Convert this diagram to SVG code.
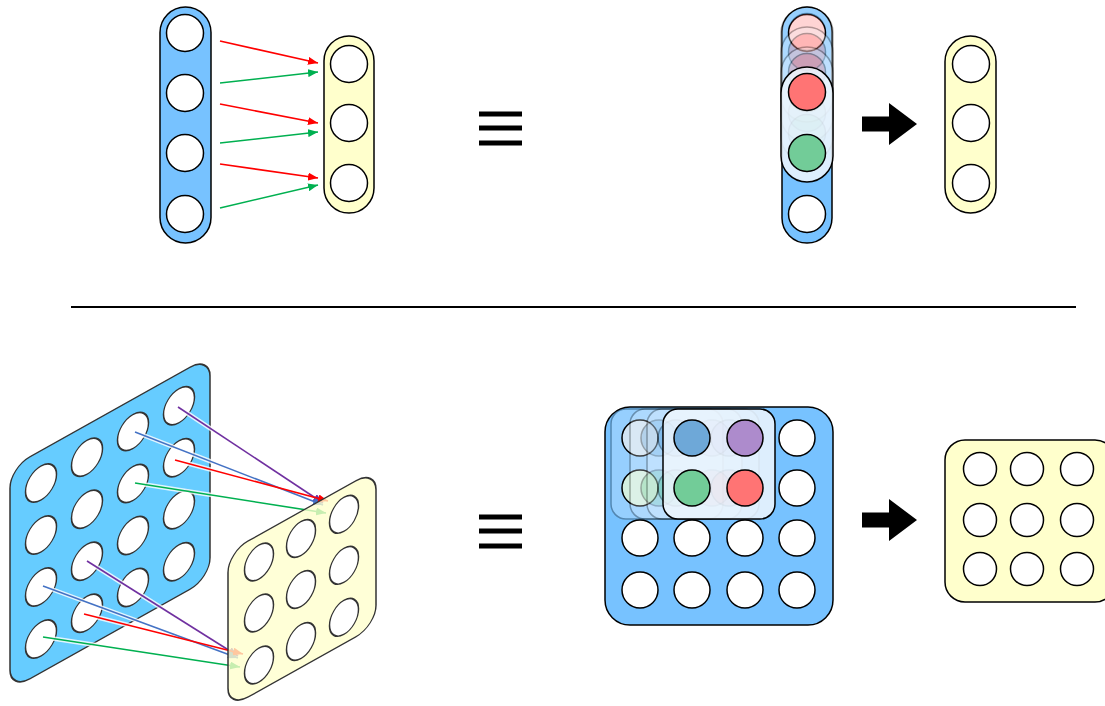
<svg xmlns="http://www.w3.org/2000/svg" width="1105" height="706" viewBox="0 0 1105 706">
  <style>
    .bg{fill:#fff}
    .blue{fill:#77c2ff;stroke:#000;stroke-width:1.5}
    .yellow{fill:#ffffcc;stroke:#000;stroke-width:1.5}
    .hole{fill:#fff;stroke:#000;stroke-width:1.5}
    .plane-blue{fill:#66ccff;stroke:#333;stroke-width:1.5}
    .plane-yellow{fill:#ffffcc;fill-opacity:0.78;stroke:#333;stroke-width:1.5}
    .phole{fill:#fff;stroke:#333;stroke-width:1.5}
    .win{fill:#eef6fd;fill-opacity:0.85;stroke:#000;stroke-width:1.5}
    .trail{opacity:0.3}
    .c-red{fill:#ff7474;stroke:#000;stroke-width:1.5}
    .c-green{fill:#72cc98;stroke:#000;stroke-width:1.5}
    .c-blue{fill:#6ea8d8;stroke:#000;stroke-width:1.5}
    .c-purple{fill:#ad8bcc;stroke:#000;stroke-width:1.5}
    .halo{fill:none;stroke:#fff;stroke-width:4.5;stroke-opacity:0.8}
    .ln{fill:none;stroke-width:1.6}
    .bar{fill:#000}
  </style>
  <defs>
    <marker id="ah-red" markerUnits="userSpaceOnUse" markerWidth="10" markerHeight="8" refX="10" refY="4" orient="auto"><path d="M0,0 L10,4 L0,8 z" fill="#ff0000"/></marker>
    <marker id="ah-green" markerUnits="userSpaceOnUse" markerWidth="10" markerHeight="8" refX="10" refY="4" orient="auto"><path d="M0,0 L10,4 L0,8 z" fill="#00b050"/></marker>
    <marker id="ah-blue" markerUnits="userSpaceOnUse" markerWidth="10" markerHeight="8" refX="10" refY="4" orient="auto"><path d="M0,0 L10,4 L0,8 z" fill="#4472c4"/></marker>
    <marker id="ah-purple" markerUnits="userSpaceOnUse" markerWidth="10" markerHeight="8" refX="10" refY="4" orient="auto"><path d="M0,0 L10,4 L0,8 z" fill="#7030a0"/></marker>
    <path id="big-arrow" d="M0,-7.5 L27,-7.5 L27,-21 L55,0 L27,21 L27,7.5 L0,7.5 z"/>
  </defs>

  <rect class="bg" x="0" y="0" width="1105" height="706"/>

  <!-- top: fully connected input layer -->
  <g id="fc-input">
    <rect class="blue" x="160" y="7" width="51" height="236" rx="25.5"/>
    <circle class="hole" cx="185" cy="33" r="18.5"/>
    <circle class="hole" cx="185" cy="93" r="18.5"/>
    <circle class="hole" cx="185" cy="153" r="18.5"/>
    <circle class="hole" cx="185" cy="214" r="18.5"/>
  </g>

  <!-- top: fully connected output layer -->
  <g id="fc-output">
    <rect class="yellow" x="324" y="36" width="50" height="177" rx="25"/>
    <circle class="hole" cx="349" cy="64" r="18.5"/>
    <circle class="hole" cx="349" cy="123" r="18.5"/>
    <circle class="hole" cx="349" cy="183" r="18.5"/>
  </g>

  <g id="fc-connectors">
    <line class="ln" x1="220" y1="41" x2="318" y2="63" stroke="#ff0000" marker-end="url(#ah-red)"/>
    <line class="ln" x1="220" y1="83" x2="318" y2="72" stroke="#00b050" marker-end="url(#ah-green)"/>
    <line class="ln" x1="220" y1="104" x2="318" y2="123" stroke="#ff0000" marker-end="url(#ah-red)"/>
    <line class="ln" x1="220" y1="143" x2="318" y2="132" stroke="#00b050" marker-end="url(#ah-green)"/>
    <line class="ln" x1="220" y1="164" x2="318" y2="178" stroke="#ff0000" marker-end="url(#ah-red)"/>
    <line class="ln" x1="220" y1="208" x2="318" y2="185" stroke="#00b050" marker-end="url(#ah-green)"/>
  </g>

  <!-- equivalence signs -->
  <g id="equiv-top">
    <rect class="bar" x="479" y="111.5" width="43" height="5"/>
    <rect class="bar" x="479" y="125.5" width="43" height="5"/>
    <rect class="bar" x="479" y="140.5" width="43" height="5"/>
  </g>

  <!-- top: 1D sliding kernel -->
  <g id="conv1d-input">
    <rect class="blue" x="782" y="7" width="50" height="236" rx="25"/>
    <circle class="hole" cx="807" cy="33" r="18.5"/>
    <circle class="hole" cx="807" cy="93" r="18.5"/>
    <circle class="hole" cx="807" cy="153" r="18.5"/>
    <circle class="hole" cx="807" cy="214" r="18.5"/>
  </g>
  <g id="conv1d-kernel">
    <g class="trail">
      <rect class="win" x="781" y="7" width="52" height="115" rx="26"/>
      <circle class="c-red" cx="807" cy="32" r="18.5"/>
      <circle class="c-green" cx="807" cy="93" r="18.5"/>
    </g>
    <g class="trail">
      <rect class="win" x="781" y="27" width="52" height="115" rx="26"/>
      <circle class="c-red" cx="807" cy="52" r="18.5"/>
      <circle class="c-green" cx="807" cy="113" r="18.5"/>
    </g>
    <g class="trail">
      <rect class="win" x="781" y="47" width="52" height="115" rx="26"/>
      <circle class="c-red" cx="807" cy="72" r="18.5"/>
      <circle class="c-green" cx="807" cy="133" r="18.5"/>
    </g>
    <rect class="win" x="781" y="67" width="52" height="115" rx="26"/>
    <circle class="c-red" cx="807" cy="92" r="18.5"/>
    <circle class="c-green" cx="807" cy="153" r="18.5"/>
  </g>
  <use id="arrow-top" href="#big-arrow" x="862" y="124" fill="#000"/>
  <g id="conv1d-output">
    <rect class="yellow" x="945" y="36" width="51" height="177" rx="25.5"/>
    <circle class="hole" cx="971" cy="64" r="18.5"/>
    <circle class="hole" cx="971" cy="123" r="18.5"/>
    <circle class="hole" cx="971" cy="183" r="18.5"/>
  </g>

  <!-- divider -->
  <line id="divider" x1="71" y1="307" x2="1076" y2="307" stroke="#000" stroke-width="2"/>

  <!-- bottom: 2D input plane in perspective -->
  <g id="plane-input" transform="matrix(1,-0.56,0,1,0,0)">
    <rect class="plane-blue" x="10" y="473.6" width="200" height="222" rx="20"/>
    <ellipse class="phole" cx="41" cy="506" rx="15.5" ry="17"/>
    <ellipse class="phole" cx="87" cy="506" rx="15.5" ry="17"/>
    <ellipse class="phole" cx="133" cy="506" rx="15.5" ry="17"/>
    <ellipse class="phole" cx="179" cy="506" rx="15.5" ry="17"/>
    <ellipse class="phole" cx="41" cy="558" rx="15.5" ry="17"/>
    <ellipse class="phole" cx="87" cy="558" rx="15.5" ry="17"/>
    <ellipse class="phole" cx="133" cy="558" rx="15.5" ry="17"/>
    <ellipse class="phole" cx="179" cy="558" rx="15.5" ry="17"/>
    <ellipse class="phole" cx="41" cy="610" rx="15.5" ry="17"/>
    <ellipse class="phole" cx="87" cy="610" rx="15.5" ry="17"/>
    <ellipse class="phole" cx="133" cy="610" rx="15.5" ry="17"/>
    <ellipse class="phole" cx="179" cy="610" rx="15.5" ry="17"/>
    <ellipse class="phole" cx="41" cy="662" rx="15.5" ry="17"/>
    <ellipse class="phole" cx="87" cy="662" rx="15.5" ry="17"/>
    <ellipse class="phole" cx="133" cy="662" rx="15.5" ry="17"/>
    <ellipse class="phole" cx="179" cy="662" rx="15.5" ry="17"/>
  </g>

  <g id="plane-connectors">
    <!-- white halos under the lines -->
    <path class="halo" d="M178,407 L323,503 M135,432 L323,505 M175,460 L328,501 M135,483 L326,513"/>
    <path class="halo" d="M87,561 L238,656 M43,586 L238,658 M84,614 L243,654 M43,637 L240,667"/>
    <!-- kernel at the top-right of the input -->
    <line class="ln" x1="178" y1="407" x2="323" y2="503" stroke="#7030a0" marker-end="url(#ah-purple)"/>
    <line class="ln" x1="135" y1="432" x2="323" y2="505" stroke="#4472c4" marker-end="url(#ah-blue)"/>
    <line class="ln" x1="175" y1="460" x2="328" y2="501" stroke="#ff0000" marker-end="url(#ah-red)"/>
    <line class="ln" x1="135" y1="483" x2="326" y2="513" stroke="#00b050" marker-end="url(#ah-green)"/>
    <!-- kernel at the bottom-left of the input -->
    <line class="ln" x1="87" y1="561" x2="238" y2="656" stroke="#7030a0" marker-end="url(#ah-purple)"/>
    <line class="ln" x1="43" y1="586" x2="238" y2="658" stroke="#4472c4" marker-end="url(#ah-blue)"/>
    <line class="ln" x1="84" y1="614" x2="243" y2="654" stroke="#ff0000" marker-end="url(#ah-red)"/>
    <line class="ln" x1="43" y1="637" x2="240" y2="667" stroke="#00b050" marker-end="url(#ah-green)"/>
  </g>

  <!-- bottom: 2D output plane in perspective -->
  <g id="plane-output" transform="matrix(1,-0.56,0,1,0,0)">
    <rect class="plane-yellow" x="228" y="680" width="148" height="156" rx="20"/>
    <ellipse class="phole" cx="259" cy="707" rx="14.5" ry="17"/>
    <ellipse class="phole" cx="301" cy="707" rx="14.5" ry="17"/>
    <ellipse class="phole" cx="344" cy="707" rx="14.5" ry="17"/>
    <ellipse class="phole" cx="259" cy="758" rx="14.5" ry="17"/>
    <ellipse class="phole" cx="301" cy="758" rx="14.5" ry="17"/>
    <ellipse class="phole" cx="344" cy="758" rx="14.5" ry="17"/>
    <ellipse class="phole" cx="259" cy="810" rx="14.5" ry="17"/>
    <ellipse class="phole" cx="301" cy="810" rx="14.5" ry="17"/>
    <ellipse class="phole" cx="344" cy="810" rx="14.5" ry="17"/>
  </g>

  <g id="equiv-bottom">
    <rect class="bar" x="479" y="514.5" width="43" height="5"/>
    <rect class="bar" x="479" y="528.5" width="43" height="5"/>
    <rect class="bar" x="479" y="543.5" width="43" height="5"/>
  </g>

  <!-- bottom: 2D sliding kernel -->
  <g id="conv2d-input">
    <rect class="blue" x="605" y="407" width="228" height="218" rx="25"/>
    <circle class="hole" cx="640" cy="438" r="18"/>
    <circle class="hole" cx="692" cy="438" r="18"/>
    <circle class="hole" cx="745" cy="438" r="18"/>
    <circle class="hole" cx="797" cy="438" r="18"/>
    <circle class="hole" cx="640" cy="488" r="18"/>
    <circle class="hole" cx="692" cy="488" r="18"/>
    <circle class="hole" cx="745" cy="488" r="18"/>
    <circle class="hole" cx="797" cy="488" r="18"/>
    <circle class="hole" cx="640" cy="538" r="18"/>
    <circle class="hole" cx="692" cy="538" r="18"/>
    <circle class="hole" cx="745" cy="538" r="18"/>
    <circle class="hole" cx="797" cy="538" r="18"/>
    <circle class="hole" cx="640" cy="590" r="18"/>
    <circle class="hole" cx="692" cy="590" r="18"/>
    <circle class="hole" cx="745" cy="590" r="18"/>
    <circle class="hole" cx="797" cy="590" r="18"/>
  </g>
  <g id="conv2d-kernel">
    <g class="trail">
      <rect class="win" x="611" y="409" width="112" height="110" rx="15"/>
      <circle class="c-blue" cx="640" cy="438" r="18"/>
      <circle class="c-purple" cx="693" cy="438" r="18"/>
      <circle class="c-green" cx="640" cy="488" r="18"/>
      <circle class="c-red" cx="693" cy="488" r="18"/>
    </g>
    <g class="trail">
      <rect class="win" x="630" y="409" width="112" height="110" rx="15"/>
      <circle class="c-blue" cx="659" cy="438" r="18"/>
      <circle class="c-purple" cx="712" cy="438" r="18"/>
      <circle class="c-green" cx="659" cy="488" r="18"/>
      <circle class="c-red" cx="712" cy="488" r="18"/>
    </g>
    <g class="trail">
      <rect class="win" x="647" y="409" width="112" height="110" rx="15"/>
      <circle class="c-blue" cx="676" cy="438" r="18"/>
      <circle class="c-purple" cx="729" cy="438" r="18"/>
      <circle class="c-green" cx="676" cy="488" r="18"/>
      <circle class="c-red" cx="729" cy="488" r="18"/>
    </g>
    <rect class="win" x="663" y="409" width="112" height="110" rx="15"/>
    <circle class="c-blue" cx="692" cy="438" r="18"/>
    <circle class="c-purple" cx="745" cy="438" r="18"/>
    <circle class="c-green" cx="692" cy="488" r="18"/>
    <circle class="c-red" cx="745" cy="488" r="18"/>
  </g>
  <use id="arrow-bottom" href="#big-arrow" x="862" y="520" fill="#000"/>
  <g id="conv2d-output">
    <rect class="yellow" x="945" y="440" width="170" height="162" rx="20"/>
    <circle class="hole" cx="980" cy="469" r="16.5"/>
    <circle class="hole" cx="1027" cy="469" r="16.5"/>
    <circle class="hole" cx="1077" cy="469" r="16.5"/>
    <circle class="hole" cx="980" cy="520" r="16.5"/>
    <circle class="hole" cx="1027" cy="520" r="16.5"/>
    <circle class="hole" cx="1077" cy="520" r="16.5"/>
    <circle class="hole" cx="980" cy="569" r="16.5"/>
    <circle class="hole" cx="1027" cy="569" r="16.5"/>
    <circle class="hole" cx="1077" cy="569" r="16.5"/>
  </g>
</svg>
